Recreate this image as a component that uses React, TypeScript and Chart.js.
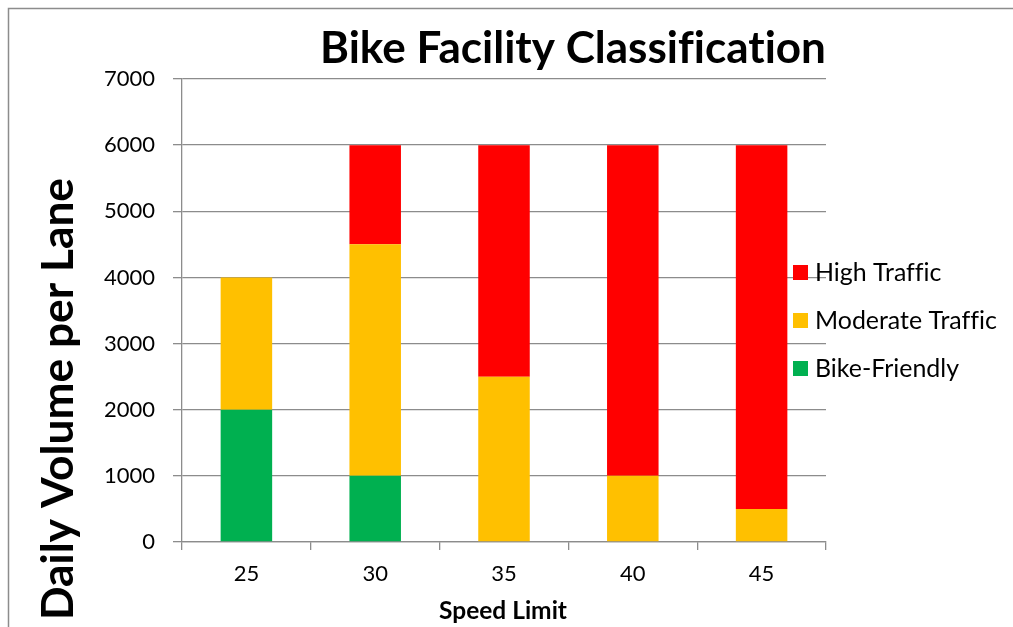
import React, { useEffect, useRef } from "react";
import { Chart, registerables } from "chart.js";

Chart.register(...registerables);

const categories = ["25", "30", "35", "40", "45"];
const bikeFriendly = [2000, 1000, 0, 0, 0];
const moderateTraffic = [2000, 3500, 2500, 1000, 500];
const highTraffic = [0, 1500, 3500, 5000, 5500];
const yMin = 0;
const yMax = 7000;
const yStep = 1000;

const chartTitle = "Bike Facility Classification";
const xTitle = "Speed Limit";
const yTitle = "Daily Volume per Lane";
const legendItems = [
  { label: "High Traffic", color: "#FF0000" },
  { label: "Moderate Traffic", color: "#FFC000" },
  { label: "Bike-Friendly", color: "#00B050" },
];

const FONT = "Lato, 'Open Sans', sans-serif";
const GRID = "#8c8c8c";

function fitFont(ctx: CanvasRenderingContext2D, text: string, weight: string, target: number) {
  const base = 40;
  ctx.font = `${weight} ${base}px ${FONT}`;
  const w = ctx.measureText(text).width;
  const size = (base * target) / w;
  return `${weight} ${size}px ${FONT}`;
}

const decorPlugin = {
  id: "decor",
  afterDraw(chart: any) {
    const ctx: any = chart.ctx;
    ctx.save();
    try { ctx.textRendering = "optimizeSpeed"; } catch (e) {}
    // outer frame
    ctx.strokeStyle = GRID;
    ctx.lineWidth = 1.5;
    ctx.beginPath();
    ctx.moveTo(8.5, 627);
    ctx.lineTo(8.5, 8.5);
    ctx.lineTo(1013, 8.5);
    ctx.stroke();

    ctx.fillStyle = "#000";
    // title
    ctx.font = fitFont(ctx, chartTitle, "bold", 506);
    ctx.textAlign = "center";
    ctx.textBaseline = "alphabetic";
    ctx.fillText(chartTitle, 573, 63);

    // x title
    ctx.font = fitFont(ctx, xTitle, "bold", 128);
    ctx.fillText(xTitle, 503, 619);

    // y title
    ctx.save();
    ctx.translate(73, 399);
    ctx.rotate(-Math.PI / 2);
    ctx.font = fitFont(ctx, yTitle, "bold", 442);
    ctx.textAlign = "center";
    ctx.textBaseline = "alphabetic";
    ctx.fillText(yTitle, 0, 0);
    ctx.restore();

    // legend
    const legendFont = fitFont(ctx, "Moderate Traffic", "normal", 182);
    ctx.font = legendFont;
    ctx.textAlign = "left";
    ctx.textBaseline = "middle";
    const rows = [272, 320, 368];
    legendItems.forEach((it, i) => {
      ctx.fillStyle = it.color;
      ctx.fillRect(793, rows[i] - 7, 15, 15);
      ctx.fillStyle = "#000";
      ctx.fillText(it.label, 815, rows[i] + 1);
    });
    ctx.restore();
  },
};

export default function App() {
  const ref = useRef<HTMLCanvasElement>(null);
  useEffect(() => {
    if (!ref.current) return;
    const chart = new Chart(ref.current, {
      type: "bar",
      data: {
        labels: categories,
        datasets: [
          { label: "Bike-Friendly", data: bikeFriendly, backgroundColor: "#00B050", barPercentage: 0.4, categoryPercentage: 1 },
          { label: "Moderate Traffic", data: moderateTraffic, backgroundColor: "#FFC000", barPercentage: 0.4, categoryPercentage: 1 },
          { label: "High Traffic", data: highTraffic, backgroundColor: "#FF0000", barPercentage: 0.4, categoryPercentage: 1 },
        ],
      },
      options: {
        animation: false,
        responsive: false,
        layout: { padding: { top: 79, right: 187, left: 0, bottom: 0 } },
        plugins: { legend: { display: false }, title: { display: false }, tooltip: { enabled: false } },
        scales: {
          x: {
            stacked: true,
            afterFit: (s: any) => { s.height = 85; },
            grid: { display: true, drawOnChartArea: false, drawTicks: true, tickLength: 8, offset: true, color: GRID, lineWidth: 1.3 },
            border: { display: true, color: GRID, width: 1.3 },
            ticks: { color: "#000", font: { family: FONT, size: 22 }, padding: 11 },
          },
          y: {
            stacked: true,
            min: yMin,
            max: yMax,
            afterFit: (s: any) => { s.width = 182; },
            grid: { color: GRID, lineWidth: 1.3, tickLength: 9 },
            border: { display: true, color: GRID, width: 1.3 },
            ticks: {
              stepSize: yStep,
              color: "#000",
              font: { family: FONT, size: 22 },
              padding: 18,
              callback: (v: any) => String(v),
            },
          },
        },
      },
      plugins: [decorPlugin],
    } as any);
    return () => chart.destroy();
  }, []);
  return (
    <div style={{ position: "absolute", left: 0, top: 0, width: 1013, height: 627, background: "#fff" }}>
      <canvas ref={ref} width={1013} height={627} />
    </div>
  );
}
